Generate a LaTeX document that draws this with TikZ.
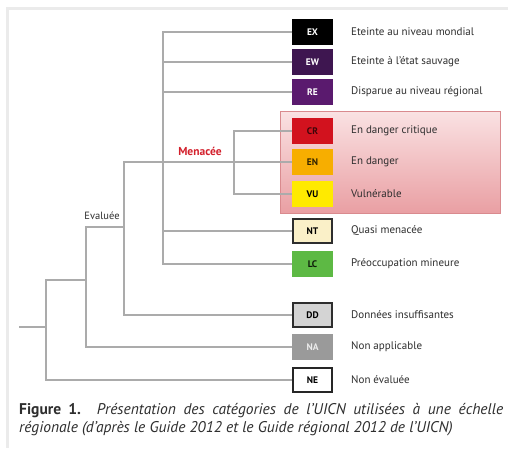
\documentclass[tikz,border=0pt]{standalone}
\usepackage{fontspec}
\setmainfont{PT Sans}
\setsansfont{PT Sans}
\definecolor{lnc}{HTML}{ABABAB}
\definecolor{txc}{HTML}{2E2E2E}
\definecolor{cEX}{HTML}{000000}
\definecolor{cEW}{HTML}{3E1650}
\definecolor{cRE}{HTML}{5A1A6E}
\definecolor{cCR}{HTML}{D2121E}
\definecolor{cEN}{HTML}{F7AE00}
\definecolor{cVU}{HTML}{FFEA00}
\definecolor{cNT}{HTML}{FAF0C8}
\definecolor{cLC}{HTML}{5DB944}
\definecolor{cDD}{HTML}{D4D4D4}
\definecolor{cNA}{HTML}{9A9A9A}
\definecolor{pinkT}{HTML}{FAE2E3}
\definecolor{pinkB}{HTML}{E99FA3}
\definecolor{pinkL}{HTML}{D98A8E}
\definecolor{menred}{HTML}{D3202C}
\begin{document}
\begin{tikzpicture}[x=1pt,y=-1pt,
  cat/.style={minimum width=39pt,minimum height=24pt,inner sep=0pt,font=\sffamily\bfseries\fontsize{9.5}{10}\selectfont,line width=1.3pt},
  lab/.style={anchor=west,inner sep=0pt,text=txc,font=\fontsize{11}{13}\selectfont},
  br/.style={draw=lnc,line width=1.1pt}]
\useasboundingbox (0,0) rectangle (508,448);
\fill[white] (0,0) rectangle (508,448);
\draw[black!8,line width=2.5pt] (7.5,448) -- (7.5,8.5) -- (508,8.5);
% pink threatened area
\shade[top color=pinkT,bottom color=pinkB] (280,111) rectangle (500,213);
\draw[pinkL,line width=0.8pt] (280,111) rectangle (500,213);
% category boxes
\node[cat,fill=cEX,draw=cEX,text=white] (ex) at (312.5,32) {EX};
\node[cat,fill=cEW,draw=cEW,text=white] (ew) at (312.5,62) {EW};
\node[cat,fill=cRE,draw=cRE,text=white] (re) at (312.5,92) {RE};
\node[cat,fill=cCR,draw=cCR,text=black!70!cCR] (cr) at (312.5,131) {CR};
\node[cat,fill=cEN,draw=cEN,text=black!80!cEN] (en) at (312.5,162) {EN};
\node[cat,fill=cVU,draw=cVU,text=black] (vu) at (312.5,194) {VU};
\node[cat,fill=cNT,draw=txc,text=black] (nt) at (312.5,231) {NT};
\node[cat,fill=cLC,draw=cLC,text=black!85!cLC] (lc) at (312.5,264) {LC};
\node[cat,fill=cDD,draw=txc,text=black] (dd) at (312.5,315) {DD};
\node[cat,fill=cNA,draw=cNA,text=black!8] (na) at (312.5,347) {NA};
\node[cat,fill=white,draw=black!85,text=black] (ne) at (312.5,380) {NE};
% labels
\node[lab] (lex) at (351,32) {Eteinte au niveau mondial};
\node[lab] (lew) at (351,62) {Eteinte à l’état sauvage};
\node[lab] (lre) at (351,92) {Disparue au niveau régional};
\node[lab] (lcr) at (351,131) {En danger critique};
\node[lab] (len) at (351,162) {En danger};
\node[lab] (lvu) at (351,194) {Vulnérable};
\node[lab] (lnt) at (351,231) {Quasi menacée};
\node[lab] (llc) at (351,264) {Préoccupation mineure};
\node[lab] (ldd) at (351,315) {Données insuffisantes};
\node[lab] (lna) at (351,347) {Non applicable};
\node[lab] (lne) at (351,380) {Non évaluée};
\node[text=menred,font=\bfseries\fontsize{11.5}{13}\selectfont,inner sep=0pt] (men) at (200,151) {Menacée};
\node[text=txc,font=\fontsize{10.5}{12}\selectfont,inner sep=0pt] (eva) at (102,216) {Evaluée};
% tree
\coordinate (xa) at (163,0);
\coordinate (xm) at (234,0);
\coordinate (xe) at (124,0);
\coordinate (xb) at (86,0);
\coordinate (xr) at (46,0);
\coordinate (evj) at (124,227);
\coordinate (rj) at (86,280);
\coordinate (stub) at (19,327);
\draw[br] (ex.west) -- (ex.west -| xa) |- (lc.west);
\draw[br] (ew.west) -- (ew.west -| xa);
\draw[br] (re.west) -- (re.west -| xa);
\draw[br] (nt.west) -- (nt.west -| xa);
\draw[br] (cr.west) -- (cr.west -| xm) |- (vu.west);
\draw[br] (en.west) -- (en.west -| xe) |- (dd.west);
\draw[br] (evj) -- (evj -| xb) |- (na.west);
\draw[br] (rj) -- (rj -| xr) |- (ne.west);
\draw[br] (stub) -- (stub -| xr);
% caption
\node[anchor=north west,inner sep=0pt,text width=484pt,align=justify,text=txc,font=\fontsize{15.5}{18.5}\selectfont] (cap) at (19,403)
 {\textbf{Figure 1.} \textit{Présentation des catégories de l’UICN utilisées à une échelle\linebreak régionale (d’après le Guide 2012 et le Guide régional 2012 de l’UICN)}};
\end{tikzpicture}
\end{document}
